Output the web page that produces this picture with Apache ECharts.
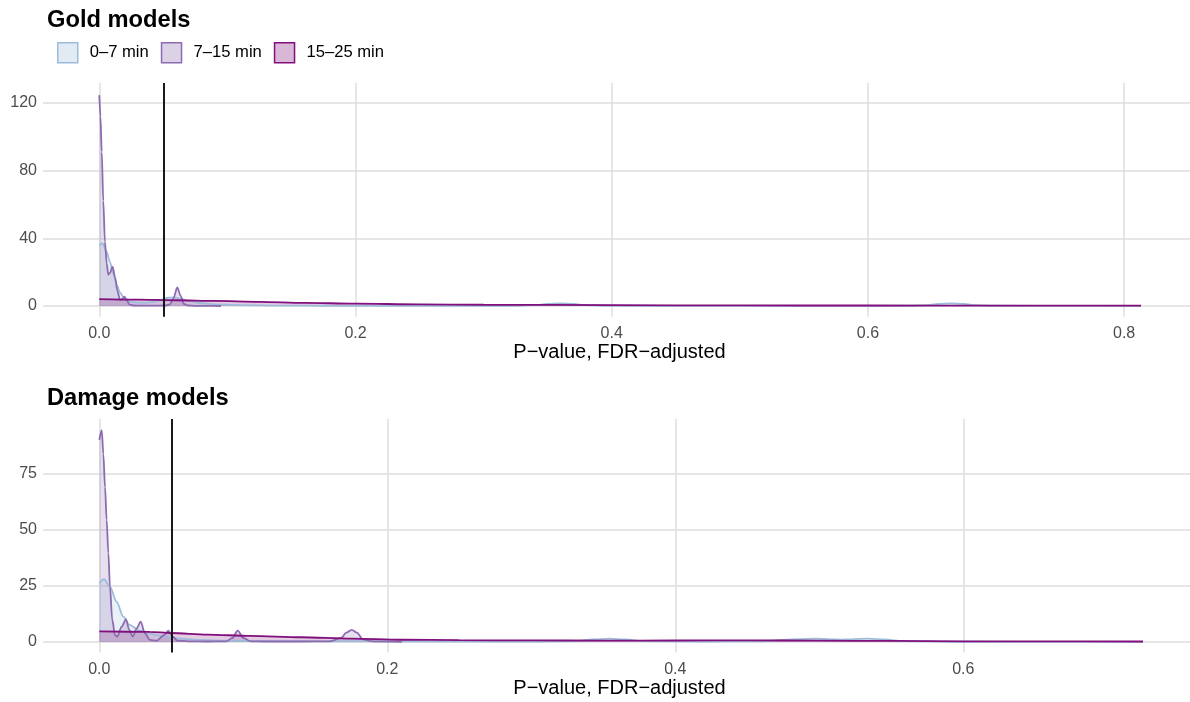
<!DOCTYPE html>
<html><head><meta charset="utf-8">
<script src="https://cdn.jsdelivr.net/npm/echarts@6/dist/echarts.min.js"></script>
<style>html,body{margin:0;padding:0;background:#fff}#c{width:1190px;height:702px}</style>
</head><body><div id="c"></div>
<script>
// ---- data ----
const seriesNames = ['0–7 min', '7–15 min', '15–25 min'];
const lineColors = ['#9ebcda', '#8c6bb1', '#810f7c'];
const fillColors = ['rgba(158,188,218,0.3)', 'rgba(140,107,177,0.3)', 'rgba(129,15,124,0.3)'];
const panelTitles = ['Gold models', 'Damage models'];
const xAxisTitle = 'P−value, FDR−adjusted';
const pCutoff = 0.05;

const goldXTicks = [0, 0.2, 0.4, 0.6, 0.8];
const goldYTicks = [0, 40, 80, 120];
const dmgXTicks = [0, 0.2, 0.4, 0.6];
const dmgYTicks = [0, 25, 50, 75];

// Gold models densities
const goldP07 = [0, 0.0026, 0.0058, 0.0083, 0.0109, 0.0136, 0.0162, 0.0187, 0.024, 0.030, 0.036, 0.042, 0.048, 0.054, 0.058, 0.063, 0.070, 0.078, 0.090, 0.110, 0.140, 0.180, 0.250, 0.320, 0.340, 0.350, 0.360, 0.370, 0.380, 0.400, 0.480, 0.580, 0.630, 0.645, 0.655, 0.665, 0.675, 0.685, 0.700, 0.760, 0.8132];
const goldD07 = [35.9, 36.9, 32, 26, 19, 12.4, 8, 5.5, 2.6, 2.0, 1.9, 2.4, 3.6, 4.9, 5.1, 4.4, 3.0, 1.8, 1.0, 0.5, 0.25, 0.15, 0.1, 0.15, 0.5, 1.2, 1.6, 1.2, 0.5, 0.15, 0.05, 0.05, 0.15, 0.5, 1.2, 1.6, 1.2, 0.5, 0.15, 0.05, 0.03];
const goldP715 = [0, 0.0009, 0.0019, 0.0031, 0.0044, 0.0058, 0.0070, 0.0083, 0.0104, 0.0123, 0.0141, 0.0162, 0.018, 0.0195, 0.0214, 0.0234, 0.0265, 0.035, 0.045, 0.052, 0.0552, 0.0578, 0.0609, 0.0635, 0.0661, 0.0695, 0.075, 0.085, 0.095];
const goldD715 = [124.5, 112, 91, 62, 38, 25, 18.5, 19.5, 23.2, 17, 9, 3.5, 4.2, 5.5, 3.5, 1.0, 0.3, 0.2, 0.2, 0.3, 1.0, 4.5, 11, 6, 1.2, 0.3, 0.1, 0.05, 0.03];
const goldP1525 = [0, 0.03, 0.06, 0.09, 0.125, 0.16, 0.2, 0.25, 0.3, 0.4, 0.5, 0.6, 0.7, 0.8132];
const goldD1525 = [4.1, 3.8, 3.4, 3.0, 2.5, 1.9, 1.4, 1.0, 0.75, 0.5, 0.35, 0.3, 0.25, 0.2];

// Damage models densities
const dmgP07 = [0, 0.0033, 0.0074, 0.012, 0.0167, 0.021, 0.028, 0.034, 0.0398, 0.0537, 0.068, 0.09, 0.12, 0.16, 0.22, 0.30, 0.33, 0.343, 0.354, 0.365, 0.378, 0.42, 0.46, 0.475, 0.487, 0.497, 0.508, 0.515, 0.522, 0.534, 0.545, 0.558, 0.60, 0.68, 0.7248];
const dmgD07 = [26.2, 28, 24.7, 18, 11.3, 7.6, 5.1, 3.9, 3.1, 1.6, 0.9, 0.6, 0.4, 0.3, 0.2, 0.15, 0.4, 1.1, 1.5, 1.1, 0.4, 0.15, 0.3, 0.9, 1.3, 1.5, 1.2, 1.0, 1.2, 1.5, 1.1, 0.4, 0.1, 0.05, 0.03];
const dmgP715 = [0, 0.0017, 0.0028, 0.004, 0.0051, 0.0063, 0.0074, 0.009, 0.0109, 0.0125, 0.0155, 0.0185, 0.0208, 0.0232, 0.026, 0.0287, 0.0317, 0.0352, 0.0399, 0.0449, 0.0479, 0.051, 0.0542, 0.062, 0.075, 0.088, 0.0925, 0.0961, 0.1, 0.105, 0.115, 0.14, 0.16, 0.168, 0.1715, 0.1753, 0.179, 0.183, 0.19, 0.21];
const dmgD715 = [90.2, 94.6, 84, 69, 54.5, 39.6, 24.7, 9.8, 3.1, 2.4, 6.8, 10.1, 5.4, 2.4, 6.1, 9.1, 3.9, 0.9, 0.6, 3.1, 5.0, 2.4, 0.6, 0.3, 0.2, 0.3, 1.8, 5.1, 1.8, 0.3, 0.2, 0.2, 0.3, 1.8, 4.2, 5.4, 4.2, 1.2, 0.3, 0.1];
const dmgP1525 = [0, 0.035, 0.05, 0.075, 0.105, 0.14, 0.175, 0.21, 0.25, 0.3, 0.35, 0.4, 0.45, 0.5, 0.55, 0.6, 0.65, 0.7248];
const dmgD1525 = [4.7, 4.5, 4.0, 3.3, 2.7, 2.1, 1.5, 1.0, 0.8, 0.7, 0.6, 0.65, 0.7, 0.6, 0.45, 0.3, 0.25, 0.2];

// ---- chart ----
const FONT = 'Liberation Sans, Arial, sans-serif';
const zip = (xs, ys) => xs.map((x, i) => [x, ys[i]]);
const panels = [
  { xs: [goldP07, goldP715, goldP1525], ys: [goldD07, goldD715, goldD1525], xTicks: goldXTicks, yTicks: goldYTicks,
    xMin: -0.04395, xMax: 0.8561, yMin: -6.3, yMax: 131.6 },
  { xs: [dmgP07, dmgP715, dmgP1525], ys: [dmgD07, dmgD715, dmgD1525], xTicks: dmgXTicks, yTicks: dmgYTicks,
    xMin: -0.0391, xMax: 0.7616, yMin: -4.7, yMax: 99.5 }
];
const grids = [
  { left: 43, top: 83.1, width: 1153, height: 233.6, outerBoundsMode: 'none', containLabel: false },
  { left: 43, top: 419.1, width: 1153, height: 233.4, outerBoundsMode: 'none', containLabel: false }
];
const gridLine = { show: true, lineStyle: { color: '#dedede', width: 1.5 } };
const xAxes = [], yAxes = [], series = [];
panels.forEach((p, i) => {
  xAxes.push({
    type: 'value', gridIndex: i, min: p.xMin, max: p.xMax,
    axisLine: { show: false },
    axisTick: { show: false, customValues: p.xTicks },
    axisLabel: { customValues: p.xTicks, formatter: v => v.toFixed(1), fontFamily: FONT, fontSize: 16, color: '#4d4d4d', margin: 9 },
    splitLine: gridLine,
    name: xAxisTitle, nameLocation: 'middle', nameGap: 26,
    nameTextStyle: { fontFamily: FONT, fontSize: 20, color: '#000' }
  });
  yAxes.push({
    type: 'value', gridIndex: i, min: p.yMin, max: p.yMax,
    axisLine: { show: false },
    axisTick: { show: false, customValues: p.yTicks },
    axisLabel: { customValues: p.yTicks, fontFamily: FONT, fontSize: 16, color: '#4d4d4d', margin: 6 },
    splitLine: gridLine
  });
  seriesNames.forEach((name, k) => {
    const s = {
      type: 'line', name: name, xAxisIndex: i, yAxisIndex: i,
      data: zip(p.xs[k], p.ys[k]),
      showSymbol: false, symbol: 'none', smooth: 0.3, smoothMonotone: 'x',
      color: lineColors[k],
      lineStyle: { color: lineColors[k], width: 1.8 },
      areaStyle: { color: fillColors[k], origin: 0 },
      silent: true, animation: false
    };
    if (k === 2) {
      s.markLine = {
        silent: true, symbol: 'none', animation: false,
        label: { show: false },
        lineStyle: { color: '#000', width: 1.8, type: 'solid' },
        data: [{ xAxis: pCutoff }]
      };
    }
    series.push(s);
  });
});

const chart = echarts.init(document.getElementById('c'), null, { renderer: 'canvas' });
chart.setOption({
  backgroundColor: '#fff',
  animation: false,
  title: [
    { text: panelTitles[0], left: 47, top: 8, padding: 0, textStyle: { fontFamily: FONT, fontSize: 23.7, fontWeight: 'bold', color: '#000' } },
    { text: panelTitles[1], left: 47, top: 386.5, padding: 0, textStyle: { fontFamily: FONT, fontSize: 23.7, fontWeight: 'bold', color: '#000' } }
  ],
  legend: {
    left: 57, top: 42, padding: 0, icon: 'rect', itemWidth: 20, itemHeight: 20, itemGap: 12,
    selectedMode: false,
    textStyle: { fontFamily: FONT, fontSize: 16.6, color: '#000', padding: [0, 0, 0, 7] },
    data: seriesNames.map((n, k) => ({ name: n, itemStyle: { color: fillColors[k], borderColor: lineColors[k], borderWidth: 1.5 } }))
  },
  grid: grids,
  xAxis: xAxes,
  yAxis: yAxes,
  series: series
});
</script></body></html>
